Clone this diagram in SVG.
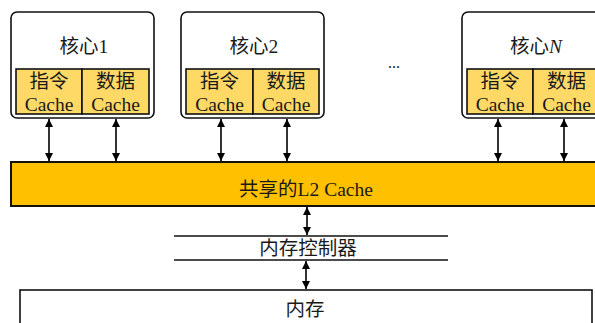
<svg xmlns="http://www.w3.org/2000/svg" width="595" height="323" viewBox="0 0 595 323">
<style>
.core{fill:#fff;stroke:#111;stroke-width:1.6}
.cache{fill:#FFD966;stroke:#111;stroke-width:1.6}
.t{font-family:"Liberation Serif","Noto Sans CJK SC",serif;font-size:19.5px;fill:#1a1a1a;text-anchor:middle}
.conn line{stroke:#000;stroke-width:1.6;marker-start:url(#ah);marker-end:url(#ah)}
</style>
<defs>
<marker id="ah" viewBox="0 0 10 10" refX="10" refY="5" markerWidth="8" markerHeight="8" markerUnits="userSpaceOnUse" orient="auto-start-reverse">
<path d="M0,0 L10,5 L0,10 z" fill="#000"/>
</marker>
</defs>
<rect width="595" height="323" fill="#fff"/>

<g id="core1">
<rect class="core" x="11" y="12" width="143" height="106" rx="6"/>
<text class="t" x="84" y="53">核心1</text>
<rect class="cache" x="16" y="69" width="66" height="45"/>
<rect class="cache" x="82" y="69" width="67" height="45"/>
<text class="t" x="49" y="88">指令</text>
<text class="t" x="49" y="111">Cache</text>
<text class="t" x="115.5" y="88">数据</text>
<text class="t" x="115.5" y="111">Cache</text>
</g>

<g id="core2">
<rect class="core" x="181" y="12" width="143" height="106" rx="6"/>
<text class="t" x="254" y="53">核心2</text>
<rect class="cache" x="186" y="69" width="67" height="45"/>
<rect class="cache" x="253" y="69" width="66" height="45"/>
<text class="t" x="219.5" y="88">指令</text>
<text class="t" x="219.5" y="111">Cache</text>
<text class="t" x="286" y="88">数据</text>
<text class="t" x="286" y="111">Cache</text>
</g>

<g id="dots">
<text class="t" x="394" y="68" style="font-size:16px">...</text>
</g>

<g id="coreN">
<rect class="core" x="462" y="12" width="143" height="106" rx="6"/>
<text class="t" x="536" y="53">核心<tspan font-style="italic">N</tspan></text>
<rect class="cache" x="467" y="69" width="66" height="45"/>
<rect class="cache" x="533" y="69" width="67" height="45"/>
<text class="t" x="500" y="88">指令</text>
<text class="t" x="500" y="111">Cache</text>
<text class="t" x="566.5" y="88">数据</text>
<text class="t" x="566.5" y="111">Cache</text>
</g>

<g id="l2">
<rect x="11" y="162" width="600" height="44" fill="#FFC000" stroke="#111" stroke-width="2"/>
<text class="t" x="306" y="196">共享的L2 Cache</text>
</g>

<g id="controller">
<line x1="174" y1="236" x2="448" y2="236" stroke="#111" stroke-width="1.6"/>
<line x1="174" y1="260" x2="448" y2="260" stroke="#111" stroke-width="1.6"/>
<text class="t" x="308" y="255">内存控制器</text>
</g>

<g id="memory">
<rect x="20" y="290" width="572" height="50" fill="#fff" stroke="#111" stroke-width="1.6"/>
<text class="t" x="305" y="316">内存</text>
</g>

<g class="conn" id="connectors">
<line x1="49" y1="119" x2="49" y2="161"/>
<line x1="116" y1="119" x2="116" y2="161"/>
<line x1="221" y1="119" x2="221" y2="161"/>
<line x1="287" y1="119" x2="287" y2="161"/>
<line x1="498" y1="119" x2="498" y2="161"/>
<line x1="564" y1="119" x2="564" y2="161"/>
<line x1="307" y1="207" x2="307" y2="235"/>
<line x1="306" y1="261" x2="306" y2="289"/>
</g>
</svg>
